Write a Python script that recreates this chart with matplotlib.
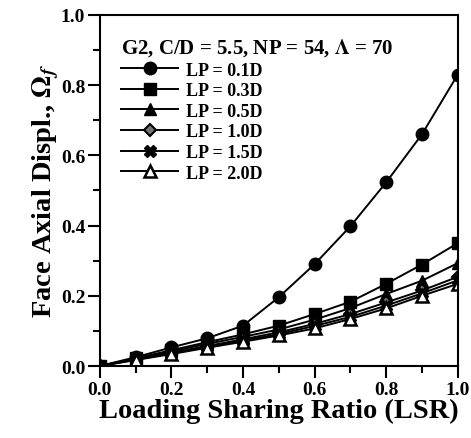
import numpy as np
import matplotlib.pyplot as plt

plt.rcParams['font.family'] = 'Liberation Serif'
plt.rcParams['font.weight'] = 'bold'
plt.rcParams['mathtext.fontset'] = 'stix'

lsr = [0.0, 0.1, 0.2, 0.3, 0.4, 0.5, 0.6, 0.7, 0.8, 0.9, 1.0]
lp01 = [0, 0.025, 0.053, 0.079, 0.115, 0.196, 0.29, 0.398, 0.523, 0.66, 0.83]
lp03 = [0, 0.022, 0.045, 0.068, 0.09, 0.115, 0.148, 0.183, 0.234, 0.289, 0.350]
lp05 = [0, 0.02, 0.042, 0.063, 0.083, 0.104, 0.132, 0.165, 0.205, 0.243, 0.293]
lp10 = [0, 0.019, 0.038, 0.057, 0.076, 0.096, 0.12, 0.148, 0.181, 0.215, 0.254]
lp15 = [0, 0.018, 0.036, 0.054, 0.072, 0.091, 0.114, 0.14, 0.172, 0.207, 0.244]
lp20 = [0, 0.017, 0.034, 0.052, 0.069, 0.087, 0.107, 0.134, 0.164, 0.200, 0.234]
labels = ['LP = 0.1D', 'LP = 0.3D', 'LP = 0.5D', 'LP = 1.0D', 'LP = 1.5D', 'LP = 2.0D']

fig = plt.figure(figsize=(4.71, 4.39), dpi=100)
ax = fig.add_axes([0.212, 0.164, 0.76, 0.80])

ax.plot(lsr, lp01, color='k', lw=1.4, marker='o', ms=9, mfc='k', mec='k', label=labels[0])
ax.plot(lsr, lp03, color='k', lw=1.4, marker='s', ms=8.5, mfc='k', mec='k', label=labels[1])
ax.plot(lsr, lp05, color='k', lw=1.4, marker='^', ms=9, mfc='k', mec='k', label=labels[2])
ax.plot(lsr, lp10, color='k', lw=1.4, marker='D', ms=6.5, mfc='0.45', mec='k', mew=1.5, label=labels[3])
ax.plot(lsr, lp15, color='k', lw=1.4, marker='X', ms=9, mfc='k', mec='k', label=labels[4])
ax.plot(lsr, lp20, color='k', lw=1.4, marker='^', ms=8.5, mfc='white', mec='k', mew=1.8, label=labels[5])

ax.set_xlim(0, 1.0)
ax.set_ylim(0, 1.0)
ax.set_xticks(np.arange(0, 1.01, 0.2))
ax.set_yticks(np.arange(0, 1.01, 0.2))
ax.set_xticks(np.arange(0, 1.01, 0.1), minor=True)
ax.set_yticks(np.arange(0, 1.01, 0.1), minor=True)
ax.xaxis.set_major_formatter(plt.FormatStrFormatter('%.1f'))
ax.yaxis.set_major_formatter(plt.FormatStrFormatter('%.1f'))
ax.tick_params(which='both', direction='out', width=1.5, labelsize=14, pad=2,
               top=False, right=False)
ax.tick_params(which='major', length=8.5)
ax.tick_params(which='minor', length=5)
for s in ax.spines.values():
    s.set_linewidth(1.5)

ax.set_xlabel('Loading Sharing Ratio (LSR)', fontsize=20.5, fontweight='bold', labelpad=0)
ax.set_ylabel(r'Face Axial Displ., $\Omega_f$', fontsize=20.5, fontweight='bold', labelpad=0)

leg = ax.legend(title=r'G2, C/D = 5.5, NP = 54, $\Lambda$ = 70', loc='upper left',
                bbox_to_anchor=(0.03, 0.97), frameon=False, fontsize=13,
                handlelength=3.15, labelspacing=0.2, handletextpad=0.4,
                borderaxespad=0.2)
leg.get_title().set_fontsize(15)
leg.get_title().set_fontweight('bold')
leg._legend_box.align = 'left'

fig.savefig('out.png', dpi=100)
